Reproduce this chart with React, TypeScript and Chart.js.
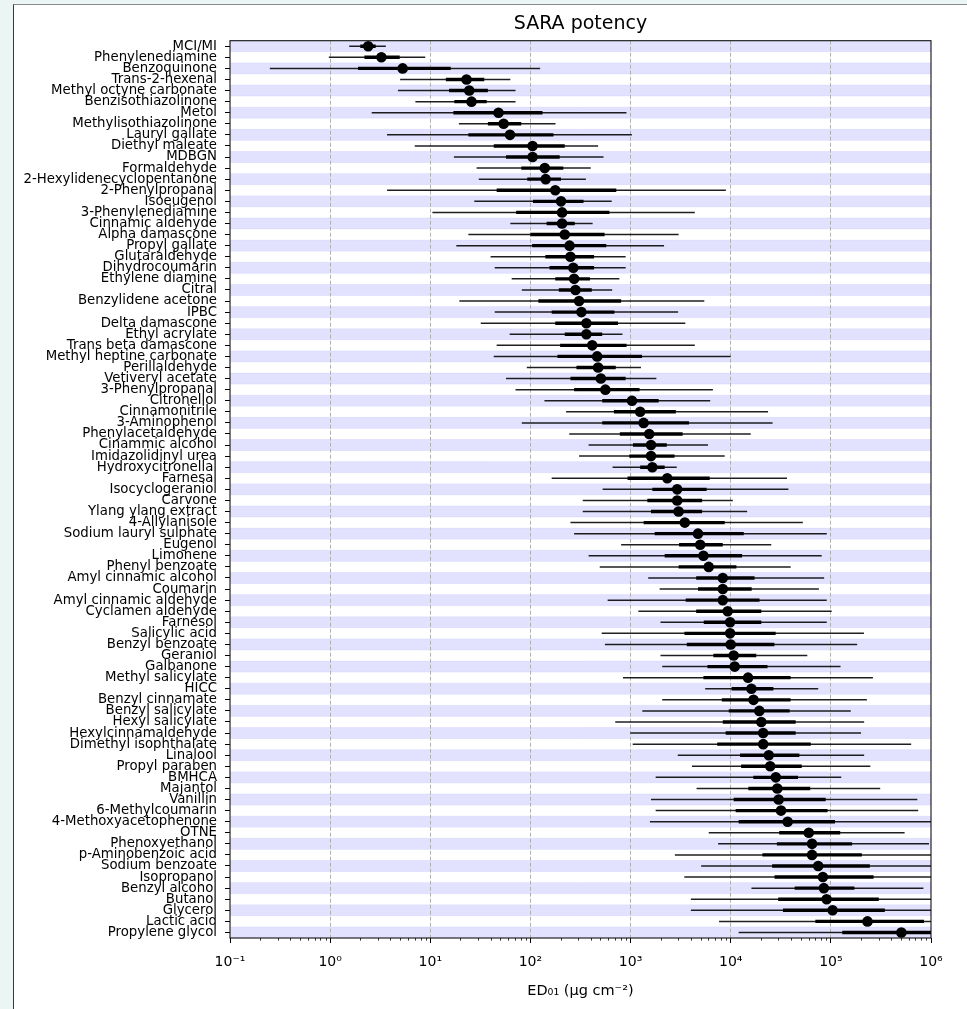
import React, { useEffect, useRef } from 'react';
import { Chart, registerables } from 'chart.js';

Chart.register(...registerables);

const categories = [
  'MCI/MI', 'Phenylenediamine', 'Benzoquinone', 'Trans-2-hexenal', 'Methyl octyne carbonate',
  'Benzisothiazolinone', 'Metol', 'Methylisothiazolinone', 'Lauryl gallate', 'Diethyl maleate',
  'MDBGN', 'Formaldehyde', '2-Hexylidenecyclopentanone', '2-Phenylpropanal', 'Isoeugenol',
  '3-Phenylenediamine', 'Cinnamic aldehyde', 'Alpha damascone', 'Propyl gallate', 'Glutaraldehyde',
  'Dihydrocoumarin', 'Ethylene diamine', 'Citral', 'Benzylidene acetone', 'IPBC',
  'Delta damascone', 'Ethyl acrylate', 'Trans beta damascone', 'Methyl heptine carbonate', 'Perillaldehyde',
  'Vetiveryl acetate', '3-Phenylpropanal', 'Citronellol', 'Cinnamonitrile', '3-Aminophenol',
  'Phenylacetaldehyde', 'Cinammic alcohol', 'Imidazolidinyl urea', 'Hydroxycitronellal', 'Farnesal',
  'Isocyclogeraniol', 'Carvone', 'Ylang ylang extract', '4-Allylanisole', 'Sodium lauryl sulphate',
  'Eugenol', 'Limonene', 'Phenyl benzoate', 'Amyl cinnamic alcohol', 'Coumarin',
  'Amyl cinnamic aldehyde', 'Cyclamen aldehyde', 'Farnesol', 'Salicylic acid', 'Benzyl benzoate',
  'Geraniol', 'Galbanone', 'Methyl salicylate', 'HICC', 'Benzyl cinnamate',
  'Benzyl salicylate', 'Hexyl salicylate', 'Hexylcinnamaldehyde', 'Dimethyl isophthalate', 'Linalool',
  'Propyl paraben', 'BMHCA', 'Majantol', 'Vanillin', '6-Methylcoumarin',
  '4-Methoxyacetophenone', 'OTNE', 'Phenoxyethanol', 'p-Aminobenzoic acid', 'Sodium benzoate',
  'Isopropanol', 'Benzyl alcohol', 'Butanol', 'Glycerol', 'Lactic acid',
  'Propylene glycol',
];

const medianValues = [
  2.4, 3.25, 5.3, 23, 24.5, 25.8, 48, 54, 62.5, 105,
  105, 139, 142, 177, 202, 207, 207, 220, 246, 251,
  268, 273, 282, 306, 323, 362, 362, 414, 464, 474,
  505, 560, 1033, 1246, 1350, 1535, 1600, 1600, 1650, 2325,
  2920, 2920, 3015, 3480, 4710, 4960, 5340, 6030, 8330, 8330,
  8330, 9330, 9860, 9860, 10000, 10700, 10950, 14900, 16100, 16900,
  19300, 20200, 21100, 21100, 24000, 24800, 28200, 29200, 30100, 31800,
  37000, 60200, 64900, 64900, 74700, 83200, 85100, 90700, 104000, 232000,
  506000,
];

const innerLow = [
  2.0, 2.2, 1.9, 14.3, 15.4, 17.4, 17, 37.6, 24, 43,
  57, 81, 93, 46, 106, 72, 145, 100, 104, 141,
  155, 177, 192, 120, 163, 177, 220, 198, 186, 288,
  251, 273, 521, 682, 521, 781, 1055, 971, 1246, 933,
  1650, 1470, 1600, 1350, 1740, 3050, 2190, 3020, 4520, 4710,
  3550, 4520, 5380, 3450, 3640, 6710, 5860, 5340, 10200, 8140,
  9550, 8330, 8900, 7330, 12400, 12700, 16800, 15000, 10700, 11200,
  12000, 30500, 28900, 20700, 25900, 27400, 43500, 29800, 33200, 70000,
  130000,
];

const innerHigh = [
  2.85, 4.95, 16, 34.6, 37.6, 36.6, 132, 81, 170, 220,
  196, 213, 202, 720, 339, 615, 277, 550, 572, 432,
  432, 393, 410, 805, 690, 750, 521, 912, 1300, 711,
  893, 1230, 1910, 2830, 3830, 3310, 2300, 2750, 2190, 6170,
  5750, 5180, 5180, 8710, 13500, 8330, 13000, 11400, 17300, 16200,
  19400, 20200, 20200, 28100, 27300, 18000, 23300, 39600, 26700, 39600,
  38800, 44500, 44500, 63000, 48500, 51200, 47000, 62200, 88800, 92700,
  110000, 124000, 163000, 204000, 245000, 267000, 172000, 301000, 346000, 850000,
  1800000,
];

const outerLow = [
  1.55, 0.97, 0.25, 5.0, 4.75, 7.1, 2.6, 19.3, 3.7, 7,
  17.2, 29, 30.5, 3.7, 27.5, 10.5, 63, 24, 18.2, 40,
  44, 65, 82, 19.5, 44, 31.9, 62, 46, 43, 92,
  57, 71, 138, 227, 82, 244, 381, 306, 661, 163,
  526, 333, 333, 251, 273, 805, 381, 492, 1500, 1950,
  590, 1195, 1990, 515, 554, 1990, 2070, 840, 5560, 2070,
  1310, 703, 994, 1050, 2960, 4100, 1780, 4560, 1600, 1780,
  1560, 6030, 7480, 2770, 5070, 3440, 16100, 4000, 4000, 7650,
  12000,
];

const outerHigh = [
  3.6, 8.9, 125, 63, 71, 71, 910, 178, 1030, 474,
  537, 400, 358, 8950, 648, 4380, 418, 3020, 2160, 893,
  893, 773, 655, 5450, 2985, 3520, 830, 4380, 10000, 1270,
  1810, 6640, 6240, 23600, 26200, 15850, 5930, 8710, 2890, 36500,
  37700, 10500, 14600, 52500, 91000, 25400, 81000, 39700, 85700, 76000,
  91000, 102000, 91000, 214000, 183000, 58200, 125000, 263000, 74800, 229000,
  158000, 215000, 200000, 634000, 215000, 248000, 127000, 311000, 730000, 745000,
  1600000, 545000, 955000, 1700000, 1600000, 1800000, 840000, 1700000, 1800000, 1500000,
  2000000,
];

const xTickValues = [0.1, 1, 10, 100, 1000, 10000, 100000, 1000000];
const xTickLabels = ['10⁻¹', '10⁰', '10¹', '10²', '10³', '10⁴', '10⁵', '10⁶'];
const minorMultipliers = [2, 3, 4, 5, 6, 7, 8, 9];

const chartTitle = 'SARA potency';
const xAxisTitle = 'ED₀₁ (μg cm⁻²)';

const FONT = "'DejaVu Sans', 'Liberation Sans', sans-serif";

const stripesPlugin = {
  id: 'stripes',
  beforeDraw(chart: any) {
    const { ctx, chartArea, scales } = chart;
    const y = scales.y;
    ctx.save();
    ctx.beginPath();
    ctx.rect(chartArea.left, chartArea.top, chartArea.right - chartArea.left, chartArea.bottom - chartArea.top);
    ctx.clip();
    categories.forEach((_, i) => {
      if (i % 2 !== 0) return;
      const y1 = y.getPixelForValue(i - 0.5);
      const y2 = y.getPixelForValue(i + 0.5);
      const top = Math.min(y1, y2);
      const h = Math.abs(y2 - y1);
      ctx.fillStyle = 'rgba(0,0,255,0.115)';
      ctx.fillRect(chartArea.left, top, chartArea.right - chartArea.left, h);
      ctx.strokeStyle = 'rgba(0,0,255,0.06)';
      ctx.lineWidth = 1;
      ctx.beginPath();
      ctx.moveTo(chartArea.left, top);
      ctx.lineTo(chartArea.right, top);
      ctx.moveTo(chartArea.left, top + h);
      ctx.lineTo(chartArea.right, top + h);
      ctx.stroke();
    });
    ctx.restore();
  },
};

const framePlugin = {
  id: 'frame',
  afterDraw(chart: any) {
    const { ctx, chartArea, scales } = chart;
    const x = scales.x;
    ctx.save();
    ctx.strokeStyle = '#000';
    ctx.lineWidth = 0.8;
    ctx.beginPath();
    for (let d = 0; d < xTickValues.length - 1; d++) {
      minorMultipliers.forEach((m) => {
        const px = Math.round(x.getPixelForValue(xTickValues[d] * m)) + 0.5;
        ctx.moveTo(px, chartArea.bottom);
        ctx.lineTo(px, chartArea.bottom + 2.6);
      });
    }
    ctx.stroke();
    ctx.strokeStyle = '#111';
    ctx.lineWidth = 1.1;
    ctx.strokeRect(chartArea.left, chartArea.top, chartArea.right - chartArea.left, chartArea.bottom - chartArea.top);
    ctx.restore();
  },
};

export default function App() {
  const canvasRef = useRef<HTMLCanvasElement | null>(null);

  useEffect(() => {
    const canvas = canvasRef.current;
    if (!canvas) return;

    const outerSegments: any[] = [];
    const innerSegments: any[] = [];
    categories.forEach((_, i) => {
      outerSegments.push({ x: outerLow[i], y: i }, { x: outerHigh[i], y: i }, { x: NaN, y: NaN });
      innerSegments.push({ x: innerLow[i], y: i }, { x: innerHigh[i], y: i }, { x: NaN, y: NaN });
    });
    const medianPoints = categories.map((_, i) => ({ x: medianValues[i], y: i }));

    const chart = new Chart(canvas, {
      type: 'scatter',
      data: {
        datasets: [
          {
            label: 'median',
            data: medianPoints,
            pointRadius: 5.3,
            pointBackgroundColor: '#000',
            pointBorderColor: '#000',
            pointBorderWidth: 0,
            showLine: false,
            order: 0,
          },
          {
            label: 'inner',
            data: innerSegments,
            showLine: true,
            spanGaps: false,
            borderColor: '#000',
            borderWidth: 3.4,
            borderCapStyle: 'butt',
            pointRadius: 0,
            order: 1,
          },
          {
            label: 'outer',
            data: outerSegments,
            showLine: true,
            spanGaps: false,
            borderColor: 'rgba(0,0,0,0.88)',
            borderWidth: 1.5,
            borderCapStyle: 'butt',
            pointRadius: 0,
            order: 2,
          },
        ],
      } as any,
      options: {
        animation: false,
        responsive: false,
        devicePixelRatio: 1,
        events: [],
        layout: { padding: { left: 14, right: 36, top: 4, bottom: 9 } },
        plugins: {
          legend: { display: false },
          tooltip: { enabled: false },
          title: {
            display: true,
            text: chartTitle,
            fullSize: false,
            color: '#000',
            font: { family: FONT, size: 19, weight: 'normal' },
            padding: { top: 9, bottom: 4.9 },
          },
        },
        scales: {
          x: {
            type: 'logarithmic',
            position: 'bottom',
            min: 0.1,
            max: 1000000,
            afterBuildTicks: (scale: any) => {
              scale.ticks = xTickValues.map((v) => ({ value: v, major: true }));
            },
            afterFit: (scale: any) => {
              scale.height = 62;
            },
            ticks: {
              autoSkip: false,
              maxRotation: 0,
              padding: 10.5,
              color: '#000',
              font: { family: FONT, size: 14 },
              callback: (value: any) => {
                const idx = xTickValues.findIndex((v) => Math.abs(Math.log10(v) - Math.log10(Number(value))) < 1e-6);
                return idx >= 0 ? xTickLabels[idx] : '';
              },
            },
            grid: {
              drawOnChartArea: true,
              drawTicks: true,
              tickLength: 5,
              tickWidth: 1,
              tickColor: '#000',
              lineWidth: 1,
              color: (ctx: any) => {
                const v = ctx.tick ? ctx.tick.value : 0;
                if (v <= 0.1 || v >= 1000000) return 'rgba(0,0,0,0)';
                return '#b0b0b0';
              },
            },
            border: { display: false, dash: [4, 2] },
            title: {
              display: true,
              text: xAxisTitle,
              color: '#000',
              font: { family: FONT, size: 14.5 },
              padding: { top: 4, bottom: 0 },
            },
          },
          y: {
            type: 'linear',
            reverse: true,
            min: -0.5,
            max: categories.length - 0.5,
            afterBuildTicks: (scale: any) => {
              scale.ticks = categories.map((_, i) => ({ value: i }));
            },
            afterFit: (scale: any) => {
              scale.width = 216;
            },
            ticks: {
              autoSkip: false,
              padding: 8,
              color: '#000',
              font: { family: FONT, size: 13.3 },
              callback: (value: any) => categories[Math.round(Number(value))] ?? '',
            },
            grid: {
              drawOnChartArea: false,
              drawTicks: true,
              tickLength: 5,
              tickWidth: 1,
              tickColor: '#000',
            },
            border: { display: false },
          },
        },
      } as any,
      plugins: [stripesPlugin, framePlugin],
    });

    return () => {
      chart.destroy();
    };
  }, []);

  return (
    <div
      style={{
        position: 'fixed',
        left: 0,
        top: 0,
        width: 967,
        height: 1009,
        overflow: 'hidden',
        background: '#ebf6f4',
      }}
    >
      <div
        style={{
          position: 'absolute',
          left: 13,
          top: 4,
          width: 1000,
          height: 1100,
          background: '#ffffff',
          borderLeft: '1.5px solid #3a3a3a',
          borderTop: '1.5px solid #8a8a8a',
        }}
      />
      <canvas
        ref={canvasRef}
        width={967}
        height={1009}
        style={{ position: 'absolute', left: 0, top: 0, width: 967, height: 1009 }}
      />
    </div>
  );
}
